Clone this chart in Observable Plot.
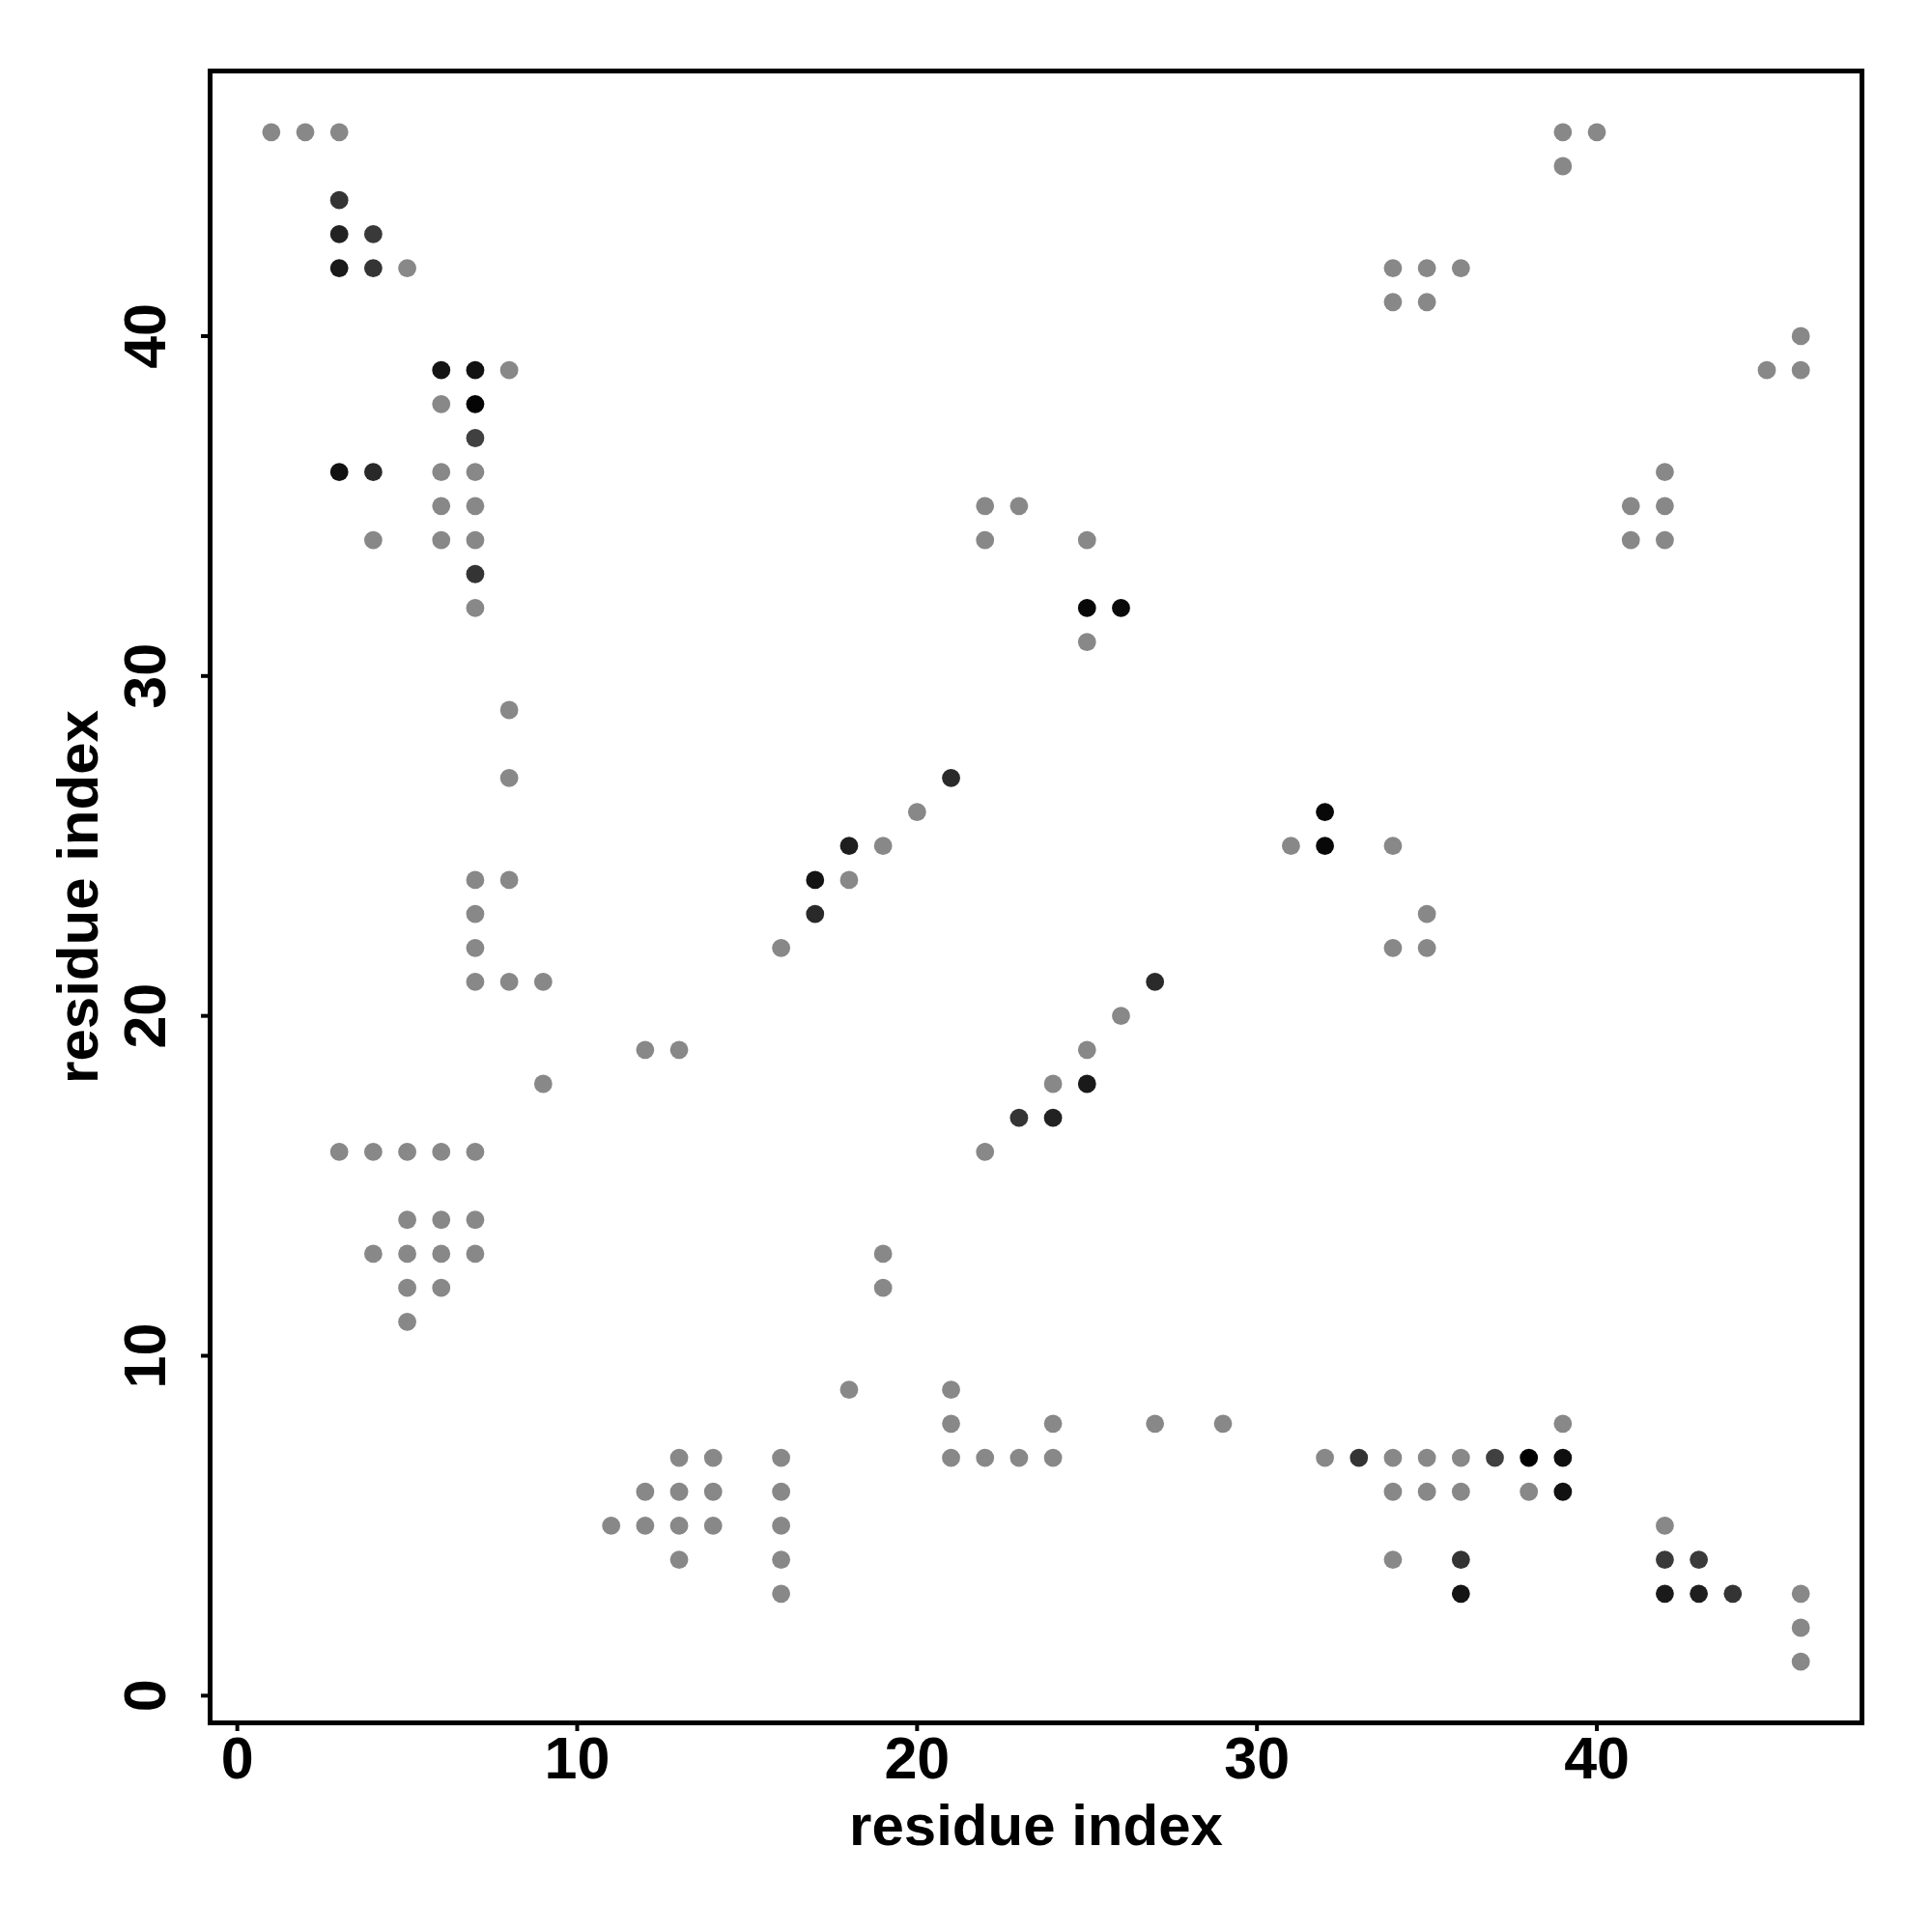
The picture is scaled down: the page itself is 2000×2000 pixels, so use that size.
<!DOCTYPE html>
<html>
<head>
<meta charset="utf-8">
<script src="https://cdn.jsdelivr.net/npm/d3@7"></script>
<script src="https://cdn.jsdelivr.net/npm/@observablehq/plot@0.6"></script>
<style>
  html, body { margin: 0; padding: 0; background: #fff; }
  #chart { width: 2000px; height: 2000px; }
</style>
</head>
<body>
<div id="chart"></div>
<script>
// residue i (x), residue j (y), contact strength (0 = grey, 1 = black)
const resI = [
  1,2,3, 5, 8, 6, 6,7, 6,7, 4,6,7, 7, 8, 8, 7,8, 7, 7, 7,8,9, 9,
  3,4,5,6,7, 5,6,7, 4,5,6,7, 5,6, 5,
  12,13, 16, 18, 19, 20, 22,23,22, 25, 25, 22, 24, 25, 26, 19,19, 18,
  21,21,21, 22,23,24,24, 27,29,
  11, 12,12, 13,13,13,13, 14,14,14, 16,16,16,16,16,
  31,34, 34,35,35, 34,34,35,35,36, 39,40,39, 45,46,46,
  41,41,42,42,42,
  32,34,34,34,35,35,36,36,38,39, 42, 46,46,46,
  // darker contacts
  3, 3,4, 3,4, 6,7, 7, 7, 3,4, 7,
  25,26, 21, 17,17, 18, 27, 25, 23,24, 32,32,
  33,37,38,39,39, 36,36, 42,43,42,43,44
];
const resJ = [
  46,46,46, 42, 39, 38, 36,36, 35,35, 34,34,34, 32, 29, 27, 24,24, 23, 22, 21,21,21, 18,
  16,16,16,16,16, 14,14,14, 13,13,13,13, 12,12, 11,
  19,19, 22, 24, 25, 26, 35,35,34, 34, 31, 16, 18, 19, 20, 13,12, 9,
  9,8,7, 7,7,7,8, 8,8,
  5, 6,5, 7,6,5,4, 7,6,5, 7,6,5,4,3,
  25,25, 22,23,22, 42,41,42,41,42, 46,46,45, 39,40,39,
  35,34,36,35,34,
  7,7,6,4,7,6,7,6,6,8, 5, 3,2,1,
  44, 43,43, 42,42, 39,39, 38, 37, 36,36, 33,
  32,32, 27, 24,23, 25, 21, 18, 17,17, 26,25,
  7,7,7,7,6, 4,3, 4,4,3,3,3
];
const strength = [
  0,0,0, 0, 0, 0, 0,0, 0,0, 0,0,0, 0, 0, 0, 0,0, 0, 0, 0,0,0, 0,
  0,0,0,0,0, 0,0,0, 0,0,0,0, 0,0, 0,
  0,0, 0, 0, 0, 0, 0,0,0, 0, 0, 0, 0, 0, 0, 0,0, 0,
  0,0,0, 0,0,0,0, 0,0,
  0, 0,0, 0,0,0,0, 0,0,0, 0,0,0,0,0,
  0,0, 0,0,0, 0,0,0,0,0, 0,0,0, 0,0,0,
  0,0,0,0,0,
  0,0,0,0,0,0,0,0,0,0, 0, 0,0,0,
  0.62, 0.75,0.58, 0.81,0.62, 0.85,0.875, 0.97, 0.53, 0.87,0.70, 0.62,
  0.94,0.93, 0.69, 0.85,0.70, 0.78, 0.69, 0.81, 0.62,0.75, 0.94,0.94,
  0.62,0.53,1.0,0.89,0.875, 0.62,0.85, 0.57,0.57,0.81,0.78,0.62
];
const tickValues = [0, 10, 20, 30, 40];
const axisTitle = "residue index";

const contacts = resI.map((i, k) => ({i, j: resJ[k], s: strength[k]}));

const plot = Plot.plot({
  width: 2000,
  height: 2000,
  marginLeft: 217,
  marginRight: 73,
  marginTop: 73,
  marginBottom: 217,
  style: {fontFamily: "'Liberation Sans', Arial, Helvetica, sans-serif", fontSize: "60px", fontWeight: "bold", background: "#fff", color: "#000"},
  x: {domain: [-0.8, 47.8], label: null},
  y: {domain: [-0.8, 47.8], label: null},
  color: {type: "linear", domain: [0, 1], range: ["#888888", "#000000"]},
  marks: [
    Plot.frame({stroke: "#000", strokeWidth: 5}),
    Plot.axisX(tickValues, {tickSize: 9, tickPadding: 5, strokeWidth: 4, fontSize: 61, fontWeight: "bold"}),
    Plot.axisY(tickValues, {tickSize: 9, strokeWidth: 4, tickFormat: () => ""}),
    Plot.text(tickValues, {y: d => d, text: d => String(d), frameAnchor: "left", dx: -47, rotate: -90, lineAnchor: "bottom", textAnchor: "middle", fontSize: 61, fontWeight: "bold"}),
    Plot.text([axisTitle], {text: d => d, frameAnchor: "bottom", dy: 126, lineAnchor: "bottom", textAnchor: "middle", fontSize: 60, fontWeight: "bold"}),
    Plot.text([axisTitle], {text: d => d, frameAnchor: "left", dx: -117, rotate: -90, lineAnchor: "bottom", textAnchor: "middle", fontSize: 60, fontWeight: "bold"}),
    Plot.dot(contacts, {x: "i", y: "j", fill: "s", r: 9.4})
  ]
});
document.getElementById("chart").appendChild(plot);
</script>
</body>
</html>
